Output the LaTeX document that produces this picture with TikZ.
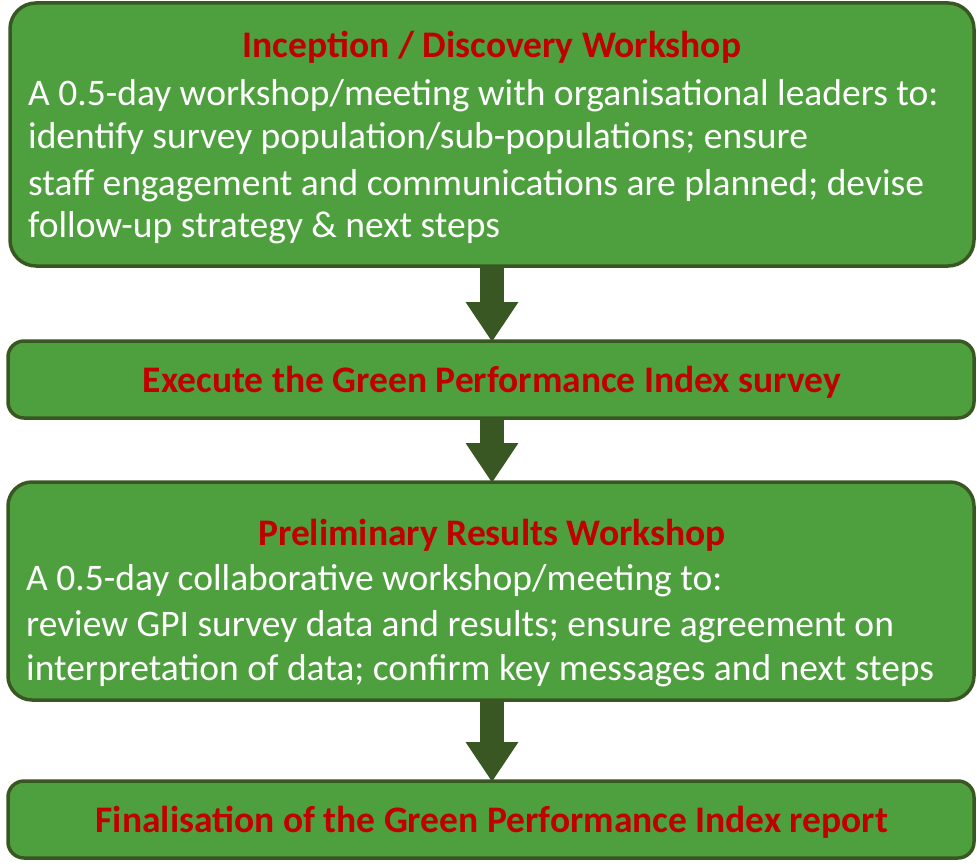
\documentclass[tikz,border=0pt]{standalone}
\usepackage{fontspec}
\setmainfont{Carlito}
\usetikzlibrary{arrows.meta}
\definecolor{boxg}{RGB}{78,160,62}
\definecolor{edgeg}{RGB}{56,87,35}
\definecolor{ttl}{RGB}{192,0,0}
\begin{document}
\begin{tikzpicture}[x=1pt,y=-1pt,
 box/.style={draw=edgeg,line width=3.5pt,fill=boxg,rounded corners=#1},
 ttl/.style={text=ttl,font=\fontsize{37.5}{40}\selectfont\bfseries,anchor=base,inner sep=0},
 body/.style={text=white,font=\fontsize{37.5}{40}\selectfont,anchor=base west,align=left,inner sep=0},
 arr/.style={edgeg,line width=24pt,-{Triangle[width=50pt,length=40pt]}}]
\useasboundingbox (0,0) rectangle (977,864);
\path[box=26] (10,3) rectangle (974,266);
\coordinate (b1s) at (492,266);
\node[ttl] (t1) at (492,58) {Inception / Discovery Workshop};
\node[body] (d1) at (28,106) {A 0.5-day workshop/meeting with organisational leaders to:};
\node[body] (d2) at (28,149) {identify survey population/sub-populations; ensure};
\node[body] (d3) at (28,195) {staff engagement and communications are planned; devise};
\node[body] (d4) at (28,237) {follow-up strategy \& next steps};
\path[box=16] (8,341) rectangle (974,418);
\coordinate (b2n) at (492,341);\coordinate (b2s) at (492,418);
\node[ttl] (t2) at (492,392) {Execute the Green Performance Index survey};
\path[box=24] (8,482) rectangle (974,700);
\coordinate (b3n) at (492,482);\coordinate (b3s) at (492,700);
\node[ttl] (t3) at (492,545) {Preliminary Results Workshop};
\node[body] (e1) at (26,590) {A 0.5-day collaborative workshop/meeting to:};
\node[body] (e2) at (26,636) {review GPI survey data and results; ensure agreement on};
\node[body] (e3) at (26,680) {interpretation of data; confirm key messages and next steps};
\path[box=16] (8,781) rectangle (974,858);
\coordinate (b4n) at (492,781);
\node[ttl] (t4) at (492,832) {Finalisation of the Green Performance Index report};
\draw[arr] (b1s) -- ([yshift=-1pt]b2n);
\draw[arr] (b2s) -- ([yshift=-1pt]b3n);
\draw[arr] (b3s) -- ([yshift=-1pt]b4n);
\end{tikzpicture}
\end{document}
